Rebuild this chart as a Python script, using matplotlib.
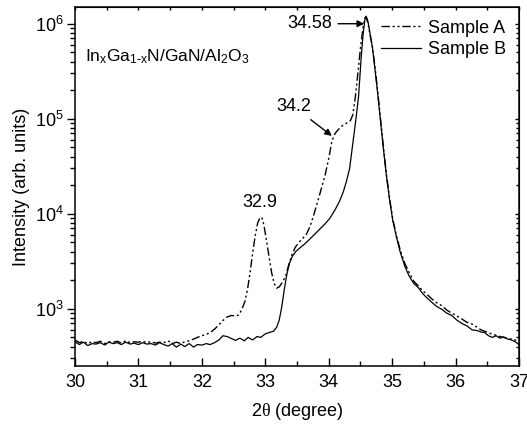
import matplotlib
matplotlib.use('Agg')
import matplotlib.pyplot as plt
from matplotlib.ticker import MultipleLocator

plt.rcParams['font.family'] = ['Liberation Sans', 'DejaVu Sans']
plt.rcParams['font.size'] = 13
plt.rcParams['mathtext.fontset'] = 'custom'
plt.rcParams['mathtext.rm'] = 'Liberation Serif'
plt.rcParams['mathtext.default'] = 'regular'

# Sample A (dash-dot-dot curve)
two_theta_a = [30.00, 30.07, 30.13, 30.20, 30.27, 30.33, 30.40, 30.47, 30.53, 30.60,
               30.67, 30.73, 30.80, 30.87, 30.93, 31.00, 31.07, 31.13, 31.20, 31.27,
               31.33, 31.40, 31.47, 31.53, 31.60, 31.67, 31.73, 31.80, 31.87, 31.93,
               32.00, 32.07, 32.13, 32.20, 32.27, 32.33, 32.40, 32.47, 32.53, 32.58,
               32.63, 32.68, 32.72, 32.76, 32.80, 32.84, 32.88, 32.92, 32.95, 32.98,
               33.02, 33.06, 33.10, 33.14, 33.18, 33.22, 33.27, 33.32, 33.37, 33.42,
               33.47, 33.53, 33.59, 33.65, 33.71, 33.76, 33.82, 33.88, 33.94, 34.00,
               34.05, 34.10, 34.16, 34.22, 34.28, 34.34, 34.38, 34.42, 34.46, 34.50,
               34.54, 34.57, 34.59, 34.62, 34.65, 34.69, 34.73, 34.77, 34.81, 34.86,
               34.91, 34.96, 35.01, 35.07, 35.13, 35.20, 35.27, 35.34, 35.41, 35.48,
               35.55, 35.62, 35.70, 35.78, 35.86, 35.94, 36.02, 36.10, 36.18, 36.26,
               36.34, 36.40, 36.46, 36.52, 36.58, 36.64, 36.70, 36.76, 36.82, 36.88,
               36.94, 37.00]
intensity_a = [470, 440, 455, 430, 450, 440, 455, 430, 450, 445,
               455, 435, 460, 440, 450, 445, 455, 440, 450, 435,
               445, 440, 460, 430, 445, 430, 450, 460, 480, 500,
               520, 540, 560, 610, 680, 750, 820, 850, 840, 860,
               980, 1200, 1600, 2400, 3800, 5800, 8000, 9200, 9000, 7500,
               5200, 3500, 2400, 1850, 1650, 1700, 1900, 2200, 2900, 3700,
               4400, 5000, 5500, 6100, 7500, 9500, 13000, 18000, 25000, 38000,
               58000, 70000, 78000, 85000, 90000, 95000, 110000, 170000, 300000, 550000,
               900000, 1150000, 1180000, 1000000, 780000, 560000, 350000, 200000, 110000, 52000,
               26000, 14500, 8800, 5800, 4100, 3000, 2400, 1950, 1750, 1550,
               1420, 1280, 1160, 1080, 970, 900, 840, 780, 720, 690,
               640, 600, 580, 560, 540, 525, 510, 500, 490, 480,
               470, 455]

# Sample B (solid curve)
two_theta_b = [30.00, 30.07, 30.13, 30.20, 30.27, 30.33, 30.40, 30.47, 30.53, 30.60,
               30.67, 30.73, 30.80, 30.87, 30.93, 31.00, 31.07, 31.13, 31.20, 31.27,
               31.33, 31.40, 31.47, 31.53, 31.60, 31.67, 31.73, 31.80, 31.87, 31.93,
               32.00, 32.07, 32.13, 32.20, 32.27, 32.33, 32.40, 32.47, 32.53, 32.60,
               32.67, 32.73, 32.80, 32.87, 32.93, 33.00, 33.07, 33.13, 33.18, 33.22,
               33.26, 33.30, 33.34, 33.38, 33.43, 33.48, 33.55, 33.62, 33.70, 33.78,
               33.86, 33.94, 34.02, 34.10, 34.17, 34.23, 34.28, 34.33, 34.38, 34.43,
               34.47, 34.51, 34.54, 34.57, 34.59, 34.62, 34.65, 34.69, 34.73, 34.77,
               34.81, 34.86, 34.91, 34.96, 35.01, 35.07, 35.13, 35.20, 35.27, 35.34,
               35.41, 35.48, 35.55, 35.62, 35.70, 35.78, 35.86, 35.94, 36.02, 36.10,
               36.18, 36.26, 36.34, 36.40, 36.46, 36.52, 36.58, 36.64, 36.70, 36.76,
               36.82, 36.88, 36.94, 37.00]
intensity_b = [450, 420, 445, 410, 430, 425, 440, 415, 445, 430,
               440, 420, 445, 425, 435, 420, 440, 425, 430, 415,
               440, 420, 405, 430, 395, 425, 400, 430, 395, 420,
               415, 430, 420, 440, 470, 520, 510, 485, 465, 490,
               460, 500, 470, 510, 500, 545, 565, 580, 640, 760,
               1050, 1600, 2300, 3000, 3600, 4000, 4400, 4800, 5400, 6100,
               6900, 7800, 9000, 11000, 13500, 17000, 22000, 30000, 55000, 100000,
               170000, 420000, 750000, 1100000, 1200000, 1050000, 800000, 560000, 330000, 190000,
               105000, 50000, 25000, 14000, 8500, 5600, 3900, 2800, 2200, 1850,
               1680, 1450, 1300, 1180, 1060, 990, 900, 850, 760, 700,
               660, 600, 590, 570, 560, 520, 500, 520, 490, 505,
               480, 470, 450, 420]

fig = plt.figure(figsize=(5.27, 4.29), dpi=100)
ax = fig.add_axes([0.1423, 0.1469, 0.8425, 0.8368])

ax.plot(two_theta_a, intensity_a, color='black', lw=1.0,
        linestyle=(0, (6, 2, 1.5, 2, 1.5, 2)), label='Sample A')
ax.plot(two_theta_b, intensity_b, color='black', lw=0.9, label='Sample B')

ax.set_yscale('log')
ax.set_xlim(30, 37)
ax.set_ylim(250, 1.5e6)
ax.xaxis.set_major_locator(MultipleLocator(1))
ax.xaxis.set_minor_locator(MultipleLocator(0.5))

ax.tick_params(axis='x', which='major', direction='in', length=6, width=1, pad=6, top=False)
ax.tick_params(axis='x', which='minor', direction='in', length=3.5, width=1, top=False)
ax.tick_params(axis='y', which='major', direction='out', length=6, width=1, pad=2, right=False)
ax.tick_params(axis='y', which='minor', direction='out', length=3.5, width=1, right=False)
for s in ax.spines.values():
    s.set_linewidth(1.1)

top = ax.secondary_xaxis('top')
top.xaxis.set_major_locator(MultipleLocator(1))
top.xaxis.set_minor_locator(MultipleLocator(0.5))
top.tick_params(which='both', direction='in', length=2.5, width=1, labeltop=False)
right = ax.secondary_yaxis('right')
right.tick_params(which='major', direction='in', length=3, width=1, labelright=False)
right.tick_params(which='minor', direction='in', length=2, width=1, labelright=False)

ax.set_xlabel(r'2$\mathrm{\theta}$ (degree)', labelpad=7)
ax.set_ylabel('Intensity (arb. units)', labelpad=4)

ax.text(0.0225, 0.85, r'In$_x$Ga$_{1\text{-}x}$N/GaN/Al$_2$O$_3$', transform=ax.transAxes,
        ha='left', va='baseline', fontsize=12.5)

arrow = dict(arrowstyle='-|>', color='black', lw=1, mutation_scale=10, shrinkA=2, shrinkB=0)
ax.annotate('34.58', xy=(34.56, 1.0e6), xytext=(34.06, 1.0e6), ha='right', va='center',
            arrowprops=arrow)
ax.annotate('34.2', xy=(34.05, 66000), xytext=(33.45, 134000), ha='center', va='center',
            arrowprops=arrow)
ax.text(32.92, 13000, '32.9', ha='center', va='center')

ax.legend(loc='upper right', bbox_to_anchor=(1.0, 1.0), frameon=False, handlelength=2.2,
          handletextpad=0.4, labelspacing=0.25, borderaxespad=0.3)

fig.savefig('out.png', dpi=100)
